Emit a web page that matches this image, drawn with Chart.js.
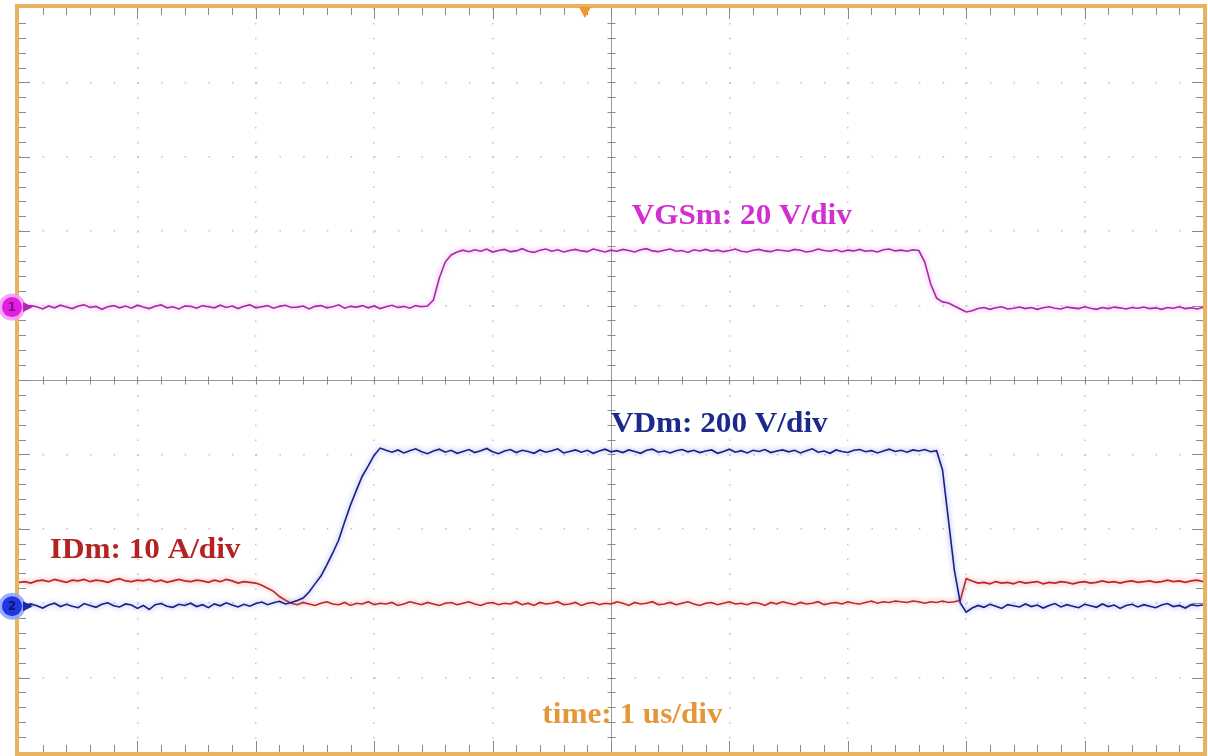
<!DOCTYPE html>
<html>
<head>
<meta charset="utf-8">
<script src="https://cdn.jsdelivr.net/npm/chart.js@4.4.1/dist/chart.umd.min.js"></script>
<style>
  html, body { margin: 0; padding: 0; background: #ffffff; }
  #wrap { width: 1208px; height: 756px; position: relative; }
  canvas { display: block; }
</style>
</head>
<body>
<div id="wrap"><canvas id="scope" width="1208" height="756"></canvas></div>
<script>
// Acquisition: one sample every 0.05 us across 10 us (1 us/div).
const SAMPLE_US = 0.05;

// Gate-source voltage, volts
const vgsVolts = [
  0.2, -0.3, 0.4, 0.1, -0.5, 0.3, -0.2, 0.5, 0.0, -0.4,
  0.3, 0.6, -0.1, 0.2, -0.6, 0.1, 0.4, -0.2, 0.3, -0.3,
  0.5, 0.0, -0.4, 0.2, 0.6, -0.2, 0.1, -0.5, 0.3, 0.2,
  -0.3, 0.4, 0.1, -0.2, 0.5, -0.1, 0.3, -0.4, 0.2, 0.6,
  -0.2, 0.1, 0.4, -0.3, 0.2, 0.5, -0.1, 0.0, 0.3, -0.5,
  0.2, 0.4, -0.2, 0.1, 0.6, -0.3, 0.2, 0.0, 0.4, -0.2,
  0.3, -0.4, 0.1, 0.5, -0.1, 0.2, -0.3, 0.4, 0.1, 0.3,
  1.9, 7.8, 12.1, 14.0, 14.8, 15.3, 14.9, 15.4, 15.0, 15.6,
  14.8, 15.2, 15.5, 14.9, 15.1, 15.7, 15.0, 14.7, 15.3, 15.6,
  15.0, 15.4, 14.8, 15.2, 15.5, 15.1, 14.9, 15.6, 15.2, 14.8,
  15.3, 15.0, 15.5, 15.2, 14.8, 15.4, 15.7, 15.1, 14.9, 15.3,
  15.6, 15.0, 15.2, 14.7, 15.4, 15.1, 15.5, 15.0, 15.3, 14.9,
  15.2, 15.6, 15.0, 14.8, 15.3, 15.5, 15.1, 14.9, 15.4, 15.2,
  15.0, 15.5, 15.3, 14.8, 15.1, 15.6, 15.2, 15.0, 15.4, 14.9,
  15.3, 15.1, 15.5, 15.0, 15.2, 14.8, 15.4, 15.6, 15.1, 15.3,
  15.0, 15.4, 15.2, 12.1, 6.2, 2.4, 1.4, 1.1, 0.3, -0.5,
  -1.3, -1.0, -0.4, -0.1, -0.6, -0.2, 0.1, -0.5, -0.3, 0.0,
  -0.4, -0.1, -0.6, -0.2, 0.1, -0.3, -0.5, 0.0, -0.2, -0.4,
  0.1, -0.3, -0.6, -0.1, -0.4, 0.0, -0.2, -0.5, -0.1, -0.3,
  0.0, -0.4, -0.2, -0.6, -0.1, -0.3, 0.1, -0.4, -0.2, -0.5,
  -0.1
];

// Drain voltage, volts
const vdVolts = [
  4, -2, 6, 1, -5, 3, 8, -1, 5, 0,
  -4, 7, 2, -3, 5, 9, 1, -2, 6, 3,
  -6, 2, -9, 4, 7, 0, -3, 5, 2, 8,
  -1, 4, -4, 6, 1, 9, 3, -2, 5, 0,
  7, 11, 4, 9, 13, 6, 10, 15, 22, 38,
  60, 81, 111, 143, 178, 226, 272, 312, 350, 377,
  406, 425, 419, 414, 420, 412, 418, 423, 415, 410,
  417, 422, 414, 419, 411, 416, 421, 413, 418, 424,
  415, 410, 417, 421, 413, 419, 416, 411, 420, 414,
  418, 423, 412, 416, 420, 414, 419, 411, 417, 422,
  415, 418, 413, 420, 416, 411, 419, 422, 414, 417,
  412, 418, 421, 415, 419, 413, 417, 420, 411, 416,
  422, 414, 418, 412, 419, 416, 421, 413, 417, 420,
  415, 419, 412, 418, 423, 414, 417, 411, 420, 416,
  413, 419, 421, 415, 418, 412, 417, 422, 416, 419,
  414, 420, 417, 421, 415, 418, 366, 232, 97, 9,
  -16, -5, 2, -3, 5, 0, -6, 4, 1, -2,
  6, -1, 3, -5, 2, 7, -2, 4, 0, -4,
  5, 1, -3, 6, -1, 3, -6, 2, 5, -2,
  4, 0, -4, 3, 7, -1, 2, -5, 4, 1,
  3
];

// Drain current, amperes
const idAmps = [
  2.8, 2.9, 2.7, 3.0, 3.1, 2.9, 3.2, 3.0, 2.8, 3.1,
  3.0, 3.2, 2.9, 3.1, 3.0, 2.8, 3.1, 3.3, 3.0, 2.9,
  3.1, 3.0, 3.2, 2.9, 3.1, 2.8, 3.0, 3.2, 3.0, 2.9,
  3.1, 3.0, 2.8, 3.1, 2.9, 3.2, 3.0, 2.7, 2.9, 2.8,
  2.7, 2.4, 2.0, 1.6, 0.9, 0.4, 0.0, -0.2, 0.1, -0.1,
  -0.3, 0.0, 0.2, -0.1, -0.2, 0.1, -0.3, 0.0, -0.1, 0.2,
  -0.2, 0.0, -0.1, 0.1, -0.3, -0.1, 0.2, 0.0, -0.2, 0.1,
  -0.1, -0.3, 0.0, 0.1, -0.2, 0.0, 0.2, -0.1, -0.3, 0.0,
  0.1, -0.2, 0.0, -0.1, 0.2, -0.2, 0.0, -0.3, 0.1, -0.1,
  0.0, 0.2, -0.2, -0.1, 0.1, -0.3, 0.0, 0.1, -0.2, 0.0,
  -0.1, 0.2, 0.0, -0.3, 0.1, -0.1, 0.0, 0.2, -0.2, -0.1,
  0.1, -0.2, 0.0, 0.2, -0.1, -0.3, 0.0, 0.1, -0.2, 0.0,
  0.2, -0.1, 0.0, -0.2, 0.1, 0.0, -0.3, 0.1, -0.1, 0.2,
  0.0, -0.2, 0.1, -0.1, 0.0, 0.2, -0.2, 0.0, 0.1, -0.1,
  0.2, 0.0, -0.1, 0.1, 0.3, 0.0, 0.2, 0.1, 0.3, 0.2,
  0.1, 0.3, 0.2, 0.0, 0.2, 0.1, 0.3, 0.1, 0.2, 0.4,
  3.3, 3.0, 2.7, 2.8, 2.6, 2.9, 2.7, 2.8, 2.6, 2.9,
  2.7, 2.8, 2.9, 2.6, 2.8, 2.7, 2.9, 2.8, 2.6, 2.8,
  2.9, 2.7, 2.8, 3.0, 2.8, 2.9, 2.7, 2.9, 3.0, 2.8,
  2.9, 3.0, 2.8, 2.9, 3.1, 2.9, 3.0, 2.8, 3.0, 3.1,
  2.9
];

// Vertical settings per channel: units per division and ground position (div)
const vgsSetup = { perDiv: 20, groundDiv: 0.98 };
const vdSetup  = { perDiv: 200, groundDiv: -3.04 };
const idSetup  = { perDiv: 10, groundDiv: -3.0 };

// Channel annotations
const captions = [
  { text: 'VGSm: 20 V/div', t: 5.175, div: 2.10,  color: '#d22fd2' },
  { text: 'VDm: 200 V/div', t: 5.0,   div: -0.70, color: '#1c2a8e' },
  { text: 'IDm: 10 A/div',  t: 0.26,  div: -2.39, color: '#b52222' },
  { text: 'time: 1 us/div', t: 4.42,  div: -4.61, color: '#e3973a' }
];
const triggerTimeUs = 4.78;

// Convert physical samples to screen divisions on the time base
function toTrace(values, setup) {
  return values.map((v, i) => ({ x: i * SAMPLE_US, y: v / setup.perDiv + setup.groundDiv }));
}

const FRAME = '#e8b35f';

// Soft phosphor glow around each trace
const traceGlow = {
  id: 'traceGlow',
  beforeDatasetDraw(chart, args) {
    const ds = chart.data.datasets[args.index];
    chart.ctx.save();
    chart.ctx.shadowColor = ds.glowColor;
    chart.ctx.shadowBlur = 5;
  },
  afterDatasetDraw(chart) {
    chart.ctx.restore();
  }
};

// Centre axes, edge ticks, frame, markers and captions
const graticule = {
  id: 'graticule',
  beforeDatasetsDraw(chart) {
    const { ctx, chartArea: a, scales: { x, y } } = chart;
    const cx = Math.round(x.getPixelForValue(5)) + 0.5;
    const cy = Math.round(y.getPixelForValue(0)) + 0.5;
    ctx.save();
    ctx.strokeStyle = '#9a9a9a';
    ctx.lineWidth = 1;
    ctx.beginPath();
    ctx.moveTo(cx, a.top); ctx.lineTo(cx, a.bottom);
    ctx.moveTo(a.left, cy); ctx.lineTo(a.right, cy);
    ctx.stroke();

    ctx.strokeStyle = '#8a8a8a';
    ctx.beginPath();
    for (let k = 1; k < 50; k++) {
      const px = Math.round(x.getPixelForValue(k / 5)) + 0.5;
      const len = k % 5 === 0 ? 11 : 7;
      ctx.moveTo(px, a.top); ctx.lineTo(px, a.top + len);
      ctx.moveTo(px, a.bottom); ctx.lineTo(px, a.bottom - len);
      ctx.moveTo(px, cy - 4); ctx.lineTo(px, cy + 4);
    }
    for (let k = 1; k < 50; k++) {
      const py = Math.round(y.getPixelForValue(-5 + k / 5)) + 0.5;
      const len = k % 5 === 0 ? 11 : 7;
      ctx.moveTo(a.left, py); ctx.lineTo(a.left + len, py);
      ctx.moveTo(a.right, py); ctx.lineTo(a.right - len, py);
      ctx.moveTo(cx - 4, py); ctx.lineTo(cx + 4, py);
    }
    ctx.stroke();
    ctx.restore();
  },
  afterDatasetsDraw(chart) {
    const { ctx, chartArea: a, scales: { x, y } } = chart;
    ctx.save();

    // frame
    ctx.strokeStyle = FRAME;
    ctx.lineWidth = 4;
    ctx.strokeRect(a.left - 2, a.top - 2, a.right - a.left + 4, a.bottom - a.top + 4);

    // trigger position marker
    const tx = x.getPixelForValue(triggerTimeUs);
    ctx.fillStyle = '#f0962a';
    ctx.beginPath();
    ctx.moveTo(tx - 6, a.top - 1);
    ctx.lineTo(tx + 6, a.top - 1);
    ctx.lineTo(tx, a.top + 10);
    ctx.closePath();
    ctx.fill();

    // channel ground markers
    drawMarker(ctx, y.getPixelForValue(vgsSetup.groundDiv), '1', '#e21ee2', 'rgba(245,150,245,0.85)', '#7a107a', '#b02ab0');
    drawMarker(ctx, y.getPixelForValue(vdSetup.groundDiv), '2', '#2038e0', 'rgba(140,160,250,0.85)', '#0c1470', '#1c2a9e');

    // captions, slightly widened like the scope's own lettering
    ctx.font = 'bold 30px "Liberation Serif", "Times New Roman", serif';
    ctx.textBaseline = 'alphabetic';
    ctx.textAlign = 'left';
    for (const c of captions) {
      ctx.save();
      ctx.translate(x.getPixelForValue(c.t), y.getPixelForValue(c.div));
      ctx.scale(1.04, 1);
      ctx.fillStyle = c.color;
      ctx.fillText(c.text, 0, 0);
      ctx.restore();
    }
    ctx.restore();
  }
};

function drawMarker(ctx, py, num, fill, halo, ink, arrow) {
  const cx = 12, r = 10;
  ctx.fillStyle = halo;
  ctx.beginPath(); ctx.arc(cx, py, r + 3.5, 0, Math.PI * 2); ctx.fill();
  ctx.fillStyle = fill;
  ctx.beginPath(); ctx.arc(cx, py, r, 0, Math.PI * 2); ctx.fill();
  ctx.fillStyle = ink;
  ctx.font = 'bold 12px "DejaVu Sans", sans-serif';
  ctx.textAlign = 'center';
  ctx.textBaseline = 'middle';
  ctx.fillText(num, cx, py + 0.5);
  ctx.fillStyle = arrow;
  ctx.beginPath();
  ctx.moveTo(cx + r + 1, py - 5);
  ctx.lineTo(cx + r + 11, py);
  ctx.lineTo(cx + r + 1, py + 5);
  ctx.closePath();
  ctx.fill();
}

new Chart(document.getElementById('scope'), {
  type: 'line',
  data: {
    datasets: [
      { label: 'VDm', data: toTrace(vdVolts, vdSetup), borderColor: '#1e1e86', glowColor: 'rgba(120,140,235,0.9)' },
      { label: 'IDm', data: toTrace(idAmps, idSetup), borderColor: '#b82a2a', glowColor: 'rgba(240,130,130,0.9)' },
      { label: 'VGSm', data: toTrace(vgsVolts, vgsSetup), borderColor: '#a62aa8', glowColor: 'rgba(240,130,240,0.9)' }
    ]
  },
  options: {
    responsive: false,
    devicePixelRatio: 1,
    animation: false,
    layout: { padding: { left: 19, right: 5, top: 8, bottom: 4 } },
    elements: {
      line: { borderWidth: 1.6, tension: 0 },
      point: { radius: 0, hoverRadius: 0 }
    },
    plugins: { legend: { display: false }, tooltip: { enabled: false } },
    events: [],
    scales: {
      x: {
        type: 'linear', min: 0, max: 10,
        ticks: { display: false, stepSize: 1 },
        grid: {
          drawTicks: false, lineWidth: 1.5,
          color: (c) => (c.tick && (c.tick.value === 0 || c.tick.value === 5 || c.tick.value === 10)) ? 'transparent' : '#c2c2c2'
        },
        border: { display: false, dash: [1.5, 13.38] }
      },
      y: {
        type: 'linear', min: -5, max: 5,
        ticks: { display: false, stepSize: 1 },
        grid: {
          drawTicks: false, lineWidth: 1.5,
          color: (c) => (c.tick && (c.tick.value === -5 || c.tick.value === 0 || c.tick.value === 5)) ? 'transparent' : '#c2c2c2'
        },
        border: { display: false, dash: [1.5, 22.18] }
      }
    }
  },
  plugins: [traceGlow, graticule]
});
</script>
</body>
</html>
